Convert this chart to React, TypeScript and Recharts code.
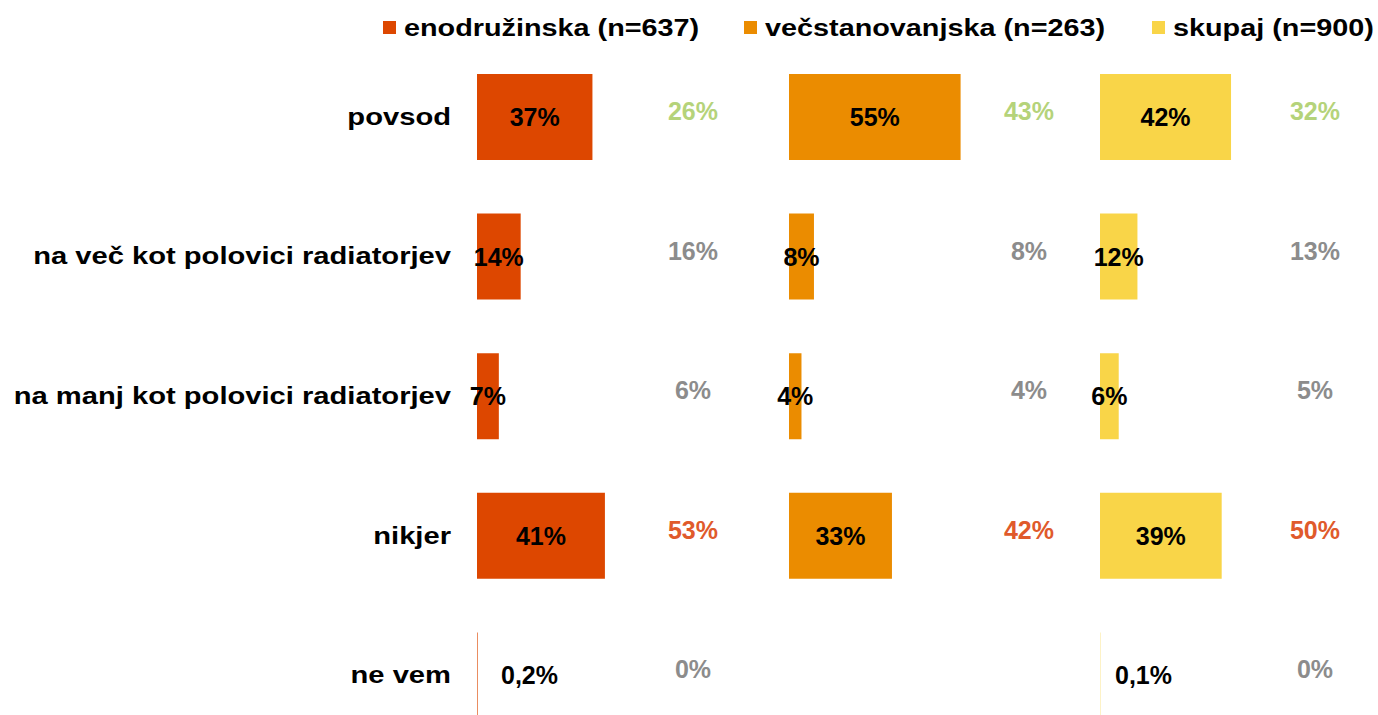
import React from 'react';
import { BarChart, Bar, XAxis, YAxis, LabelList } from 'recharts';

// kategorije odgovorov
const kategorije = [
  'povsod',
  'na več kot polovici radiatorjev',
  'na manj kot polovici radiatorjev',
  'nikjer',
  'ne vem',
];

// trenutni deleži (%)
const enodruzinska = [37, 14, 7, 41, 0.2];
const vecstanovanjska = [55, 8, 4, 33, 0];
const skupaj = [42, 12, 6, 39, 0.1];

// primerjalni deleži (%)
const enodruzinskaPrej = [26, 16, 6, 53, 0];
const vecstanovanjskaPrej = [43, 8, 4, 42, 0];
const skupajPrej = [32, 13, 5, 50, 0];

const barvePrej = ['#b5d37a', '#8c8c8c', '#8c8c8c', '#e05a2b', '#8c8c8c'];

const FONT = '"Liberation Sans", Arial, sans-serif';
const PAD = 40; // prostor levo, da oznake ob kratkih stolpcih niso odrezane

const paneli = [
  { ime: 'enodružinska (n=637)', vrednosti: enodruzinska, prej: enodruzinskaPrej, barva: '#dd4700', left: 0, width: 789, yAxis: true, prejOff: 216, maloOff: 24, legX: 383 },
  { ime: 'večstanovanjska (n=263)', vrednosti: vecstanovanjska, prej: vecstanovanjskaPrej, barva: '#eb8c00', left: 789, width: 312, yAxis: false, prejOff: 240, maloOff: 20, legX: 744 },
  { ime: 'skupaj (n=900)', vrednosti: skupaj, prej: skupajPrej, barva: '#f9d548', left: 1100, width: 312, yAxis: false, prejOff: 215, maloOff: 15, legX: 1152 },
];

const fmt = (v: number) => (Number.isInteger(v) ? String(v) : String(v).replace('.', ',')) + '%';

function CategoryTick(props: any) {
  const { x, y, payload } = props;
  return (
    <text transform={`translate(${x},${y}) scale(1.215,1)`} textAnchor="end" dominantBaseline="central"
      fill="#000" fontSize={24} fontWeight={700} fontFamily={FONT}>
      {payload.value}
    </text>
  );
}

function makeLabel(panel: any) {
  return (props: any) => {
    const { x, y, width, height, value, index } = props;
    const cy = y + height / 2;
    const prej = panel.prej[index];
    const small = value > 0 && width < 5;
    return (
      <g>
        {value > 0 && (
          <text x={small ? x + panel.maloOff : x + width / 2} y={cy} textAnchor={small ? 'start' : 'middle'}
            dominantBaseline="central" fill="#000" fontSize={25} fontWeight={700} fontFamily={FONT}>
            {fmt(value)}
          </text>
        )}
        <text x={x + panel.prejOff} y={cy - 6} textAnchor="middle" dominantBaseline="central"
          fill={barvePrej[index]} fontSize={25} fontWeight={700} fontFamily={FONT}>
          {fmt(prej)}
        </text>
      </g>
    );
  };
}

export default function App() {
  return (
    <div style={{ position: 'absolute', left: 0, top: 0, width: 1378, height: 715, overflow: 'hidden', background: '#fff', fontFamily: FONT }}>
      {paneli.map((p) => {
        const data = kategorije.map((k, i) => ({ kategorija: k, vrednost: p.vrednosti[i] }));
        const pad = p.yAxis ? 0 : PAD;
        return (
          <div key={p.ime} style={{ position: 'absolute', left: p.left - pad, top: 0 }}>
            <BarChart width={p.width + pad} height={745} data={data} layout="vertical"
              margin={{ top: 47, right: 0, bottom: 0, left: pad }}>
              <XAxis type="number" domain={[0, 100]} hide />
              <YAxis type="category" dataKey="kategorija" width={p.yAxis ? 477 : 0} hide={!p.yAxis}
                axisLine={false} tickLine={false} tickSize={0} tickMargin={26} tick={<CategoryTick />} interval={0} />
              <Bar dataKey="vrednost" fill={p.barva} barSize={86} isAnimationActive={false}>
                <LabelList dataKey="vrednost" content={makeLabel(p)} />
              </Bar>
            </BarChart>
          </div>
        );
      })}
      <svg width={1378} height={50} style={{ position: 'absolute', left: 0, top: 0 }}>
        {paneli.map((p) => (
          <g key={p.ime}>
            <rect x={p.legX} y={21} width={13} height={13} fill={p.barva} />
            <text transform={`translate(${p.legX + 21},28) scale(1.2,1)`} dominantBaseline="central"
              fill="#000" fontSize={24} fontWeight={700} fontFamily={FONT}>
              {p.ime}
            </text>
          </g>
        ))}
      </svg>
    </div>
  );
}
